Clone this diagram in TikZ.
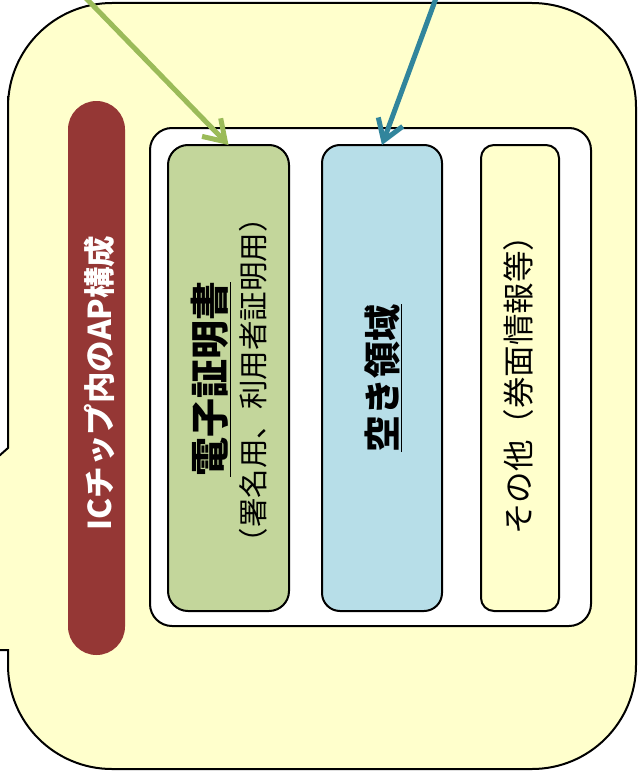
\documentclass[tikz,border=0pt]{standalone}
\usepackage{fontspec}
\setmainfont{Noto Sans CJK JP}
\usetikzlibrary{arrows.meta}
\definecolor{paleyellow}{HTML}{FFFFCC}
\definecolor{pillred}{HTML}{953735}
\definecolor{certgreen}{HTML}{C3D69B}
\definecolor{freeblue}{HTML}{B7DEE8}
\definecolor{arrowgreen}{HTML}{9BBB59}
\definecolor{arrowblue}{HTML}{31859C}
\tikzset{
  box/.style={draw=black, line width=2pt, inner sep=0pt, outer sep=0pt, rectangle},
  vtext/.style={rotate=90, inner sep=0pt, outer sep=0pt, anchor=center},
  pointer/.style={line width=5pt, -{Straight Barb[length=20pt,width=26pt]}},
}
\begin{document}
\begin{tikzpicture}[x=1pt,y=-1pt]
\useasboundingbox (0,0) rectangle (637,776);
\begin{scope}
\clip (0,0) rectangle (637,776);
% outer callout
\path[draw=black, line width=2pt, fill=paleyellow]
  (8,448) -- (-220,650) -- (8,650) -- (8,651)
  [rounded corners=104pt] -- (8,769) -- (636,769) -- (636,3) -- (8,3) -- (8,200)
  [sharp corners] -- (8,448) -- cycle;
% red pill
\node[rectangle, fill=pillred, rounded corners=28.5pt, minimum width=57pt, minimum height=554pt, inner sep=0pt] (pill) at (96.5,378) {};
\node[vtext, text=white, font=\fontsize{31.5}{36}\selectfont\bfseries] (pilltext) at (99,383) {ICチップ内のAP構成};
% inner white container
\node[box, fill=white, rounded corners=22pt, minimum width=441pt, minimum height=498pt] (frame) at (370.5,377) {};
% three areas
\node[box, fill=certgreen, rounded corners=20pt, minimum width=121pt, minimum height=466pt] (cert) at (228.5,378) {};
\node[box, fill=freeblue, rounded corners=18pt, minimum width=120pt, minimum height=466pt] (free) at (382,378) {};
\node[box, fill=paleyellow, rounded corners=13pt, minimum width=78pt, minimum height=466pt] (other) at (520,378) {};
% texts
\node[vtext, font=\fontsize{39}{44}\selectfont\bfseries] (certtitle) at (211,379) {\underline{電子証明書}};
\node[vtext, font=\fontsize{29.5}{34}\selectfont] (certsub) at (253,380) {（署名用、利用者証明用）};
\node[vtext, font=\fontsize{37}{42}\selectfont\bfseries] (freetitle) at (383,378) {\underline{空き領域}};
\node[vtext, font=\fontsize{31.5}{36}\selectfont] (othertext) at (519,377) {その他（券面情報等）};
% arrows
\coordinate (gstart) at (78,-10);
\coordinate (bstart) at (439,-10);
\draw[pointer, draw=arrowgreen] (gstart) -- (cert.north);
\draw[pointer, draw=arrowblue] (bstart) -- (free.north);
\end{scope}
\end{tikzpicture}
\end{document}
